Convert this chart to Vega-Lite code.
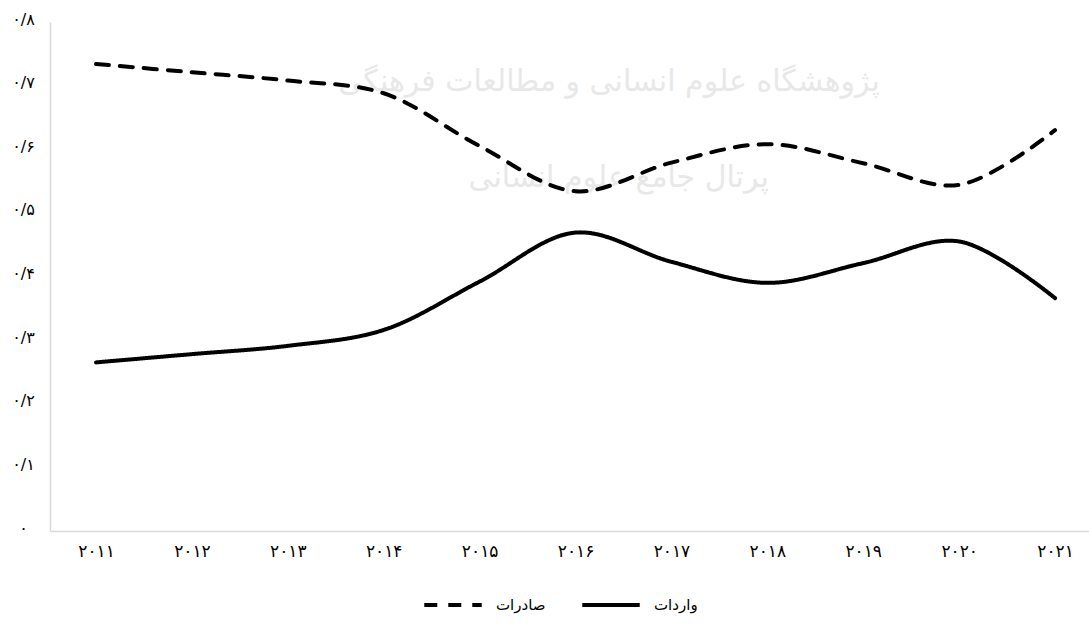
{
  "$schema": "https://vega.github.io/schema/vega-lite/v6.json",
  "autosize": {"type": "none"},
  "width": 1039,
  "height": 509,
  "padding": {"left": 50, "top": 22, "right": 0, "bottom": 93},
  "background": "white",
  "config": {
    "view": {"stroke": null},
    "font": "DejaVu Sans",
    "axis": {"grid": false, "domainColor": "#d9d9d9", "domainWidth": 1.5, "ticks": false, "tickSize": 0, "labelColor": "#000000", "labelFont": "DejaVu Sans", "labelFontSize": 15, "title": null}
  },
  "layer": [
    {
      "data": {"values": [
        {"year": 2016.35, "v": 0.705, "t": "پژوهشگاه علوم انسانی و مطالعات فرهنگی"},
        {"year": 2016.45, "v": 0.555, "t": "پرتال جامع علوم انسانی"}
      ]},
      "mark": {"type": "text", "color": "#e8e8e8", "font": "DejaVu Sans", "fontSize": 30, "baseline": "middle"},
      "encoding": {
        "x": {"field": "year", "type": "quantitative"},
        "y": {"field": "v", "type": "quantitative"},
        "text": {"field": "t"}
      }
    },
    {
      "data": {"values": [
        {"year": 2011, "series": "صادرات", "value": 0.734},
        {"year": 2012, "series": "صادرات", "value": 0.721},
        {"year": 2013, "series": "صادرات", "value": 0.708},
        {"year": 2014, "series": "صادرات", "value": 0.688},
        {"year": 2015, "series": "صادرات", "value": 0.605},
        {"year": 2016, "series": "صادرات", "value": 0.534},
        {"year": 2017, "series": "صادرات", "value": 0.579},
        {"year": 2018, "series": "صادرات", "value": 0.608},
        {"year": 2019, "series": "صادرات", "value": 0.578},
        {"year": 2020, "series": "صادرات", "value": 0.544},
        {"year": 2021, "series": "صادرات", "value": 0.630},
        {"year": 2011, "series": "واردات", "value": 0.265},
        {"year": 2012, "series": "واردات", "value": 0.278},
        {"year": 2013, "series": "واردات", "value": 0.291},
        {"year": 2014, "series": "واردات", "value": 0.316},
        {"year": 2015, "series": "واردات", "value": 0.392},
        {"year": 2016, "series": "واردات", "value": 0.469},
        {"year": 2017, "series": "واردات", "value": 0.423},
        {"year": 2018, "series": "واردات", "value": 0.390},
        {"year": 2019, "series": "واردات", "value": 0.421},
        {"year": 2020, "series": "واردات", "value": 0.455},
        {"year": 2021, "series": "واردات", "value": 0.366}
      ]},
      "mark": {"type": "line", "interpolate": "catmull-rom", "strokeWidth": 4, "strokeCap": "round", "color": "#000000"},
      "encoding": {
        "x": {
          "field": "year", "type": "quantitative",
          "scale": {"domain": [2010.52, 2021.354], "nice": false, "zero": false},
          "axis": {"values": [2011, 2012, 2013, 2014, 2015, 2016, 2017, 2018, 2019, 2020, 2021], "labelPadding": 12, "labelFontSize": 17,
                   "labelExpr": "['۲۰۱۱','۲۰۱۲','۲۰۱۳','۲۰۱۴','۲۰۱۵','۲۰۱۶','۲۰۱۷','۲۰۱۸','۲۰۱۹','۲۰۲۰','۲۰۲۱'][round(datum.value)-2011]"}
        },
        "y": {
          "field": "value", "type": "quantitative",
          "scale": {"domain": [0, 0.8], "nice": false, "zero": true},
          "axis": {"values": [0, 0.1, 0.2, 0.3, 0.4, 0.5, 0.6, 0.7, 0.8], "labelAlign": "center", "labelPadding": 27, "labelOffset": -3, "labelFontSize": 16,
                   "labelExpr": "['۰','۰/۱','۰/۲','۰/۳','۰/۴','۰/۵','۰/۶','۰/۷','۰/۸'][round(datum.value*10)]"}
        },
        "strokeDash": {
          "field": "series", "type": "nominal",
          "scale": {"domain": ["صادرات", "واردات"], "range": [[13, 11], [1, 0]]},
          "legend": {"title": null, "orient": "none", "direction": "horizontal", "legendX": 372, "legendY": 552,
                     "symbolType": "stroke", "symbolSize": 3300, "symbolStrokeWidth": 4, "symbolStrokeColor": "#000000",
                     "labelFontSize": 15, "labelFont": "DejaVu Sans", "labelColor": "#000000", "labelOffset": 12, "columnPadding": 28}
        }
      }
    }
  ]
}
